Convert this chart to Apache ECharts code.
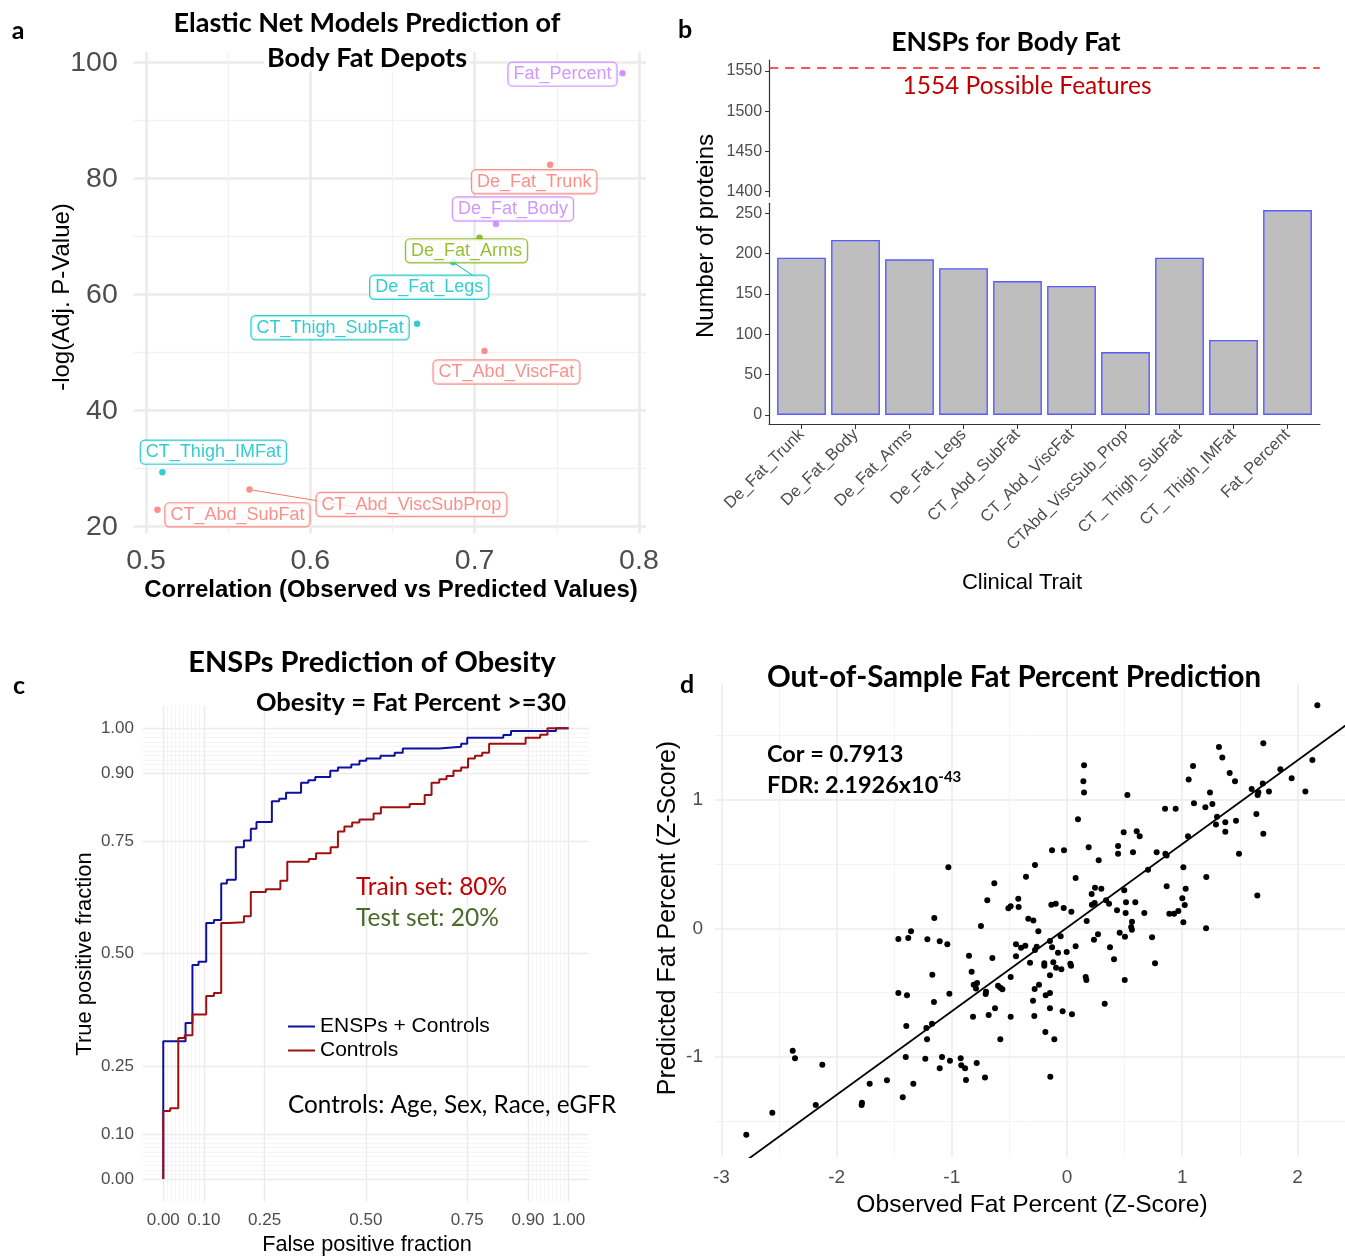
<!DOCTYPE html>
<html>
<head>
<meta charset="utf-8">
<title>ENSPs and body fat</title>
<script src="https://cdn.jsdelivr.net/npm/echarts/dist/echarts.min.js"></script>
<style>
    html, body { margin: 0; padding: 0; background: #fff; }
    #chart { width: 1345px; height: 1258px; }
</style>
</head>
<body>
<div id="chart"></div>
<script>
// ---- panel a: elastic net models per depot
const depotNames = ['Fat_Percent', 'De_Fat_Trunk', 'De_Fat_Body', 'De_Fat_Arms', 'De_Fat_Legs',
    'CT_Thigh_SubFat', 'CT_Abd_ViscFat', 'CT_Thigh_IMFat', 'CT_Abd_ViscSubProp', 'CT_Abd_SubFat']
const depotCor = [0.790, 0.746, 0.713, 0.703, 0.687, 0.665, 0.706, 0.510, 0.563, 0.507]
const depotLogP = [98.2, 82.4, 72.2, 69.8, 65.6, 55.0, 50.3, 29.4, 26.4, 22.9]
const depotGroup = [3, 0, 3, 1, 2, 2, 0, 2, 0, 0]

// ---- panel b: number of selected proteins
const traitNames = ['De_Fat_Trunk', 'De_Fat_Body', 'De_Fat_Arms', 'De_Fat_Legs', 'CT_Abd_SubFat',
    'CT_Abd_ViscFat', 'CTAbd_ViscSub_Prop', 'CT_ Thigh_SubFat', 'CT_ Thigh_IMFat', 'Fat_Percent']
const proteinCounts = [195, 217, 193, 182, 166, 160, 78, 195, 93, 254]
const possibleFeatures = 1554

// ---- panel c: ROC curves
const fprEnsp = [0, 0, 0.055, 0.072, 0.087, 0.106, 0.125, 0.143, 0.157, 0.179, 0.199, 0.216, 0.230, 0.268, 0.286,
    0.303, 0.340, 0.358, 0.375, 0.412, 0.431, 0.464, 0.484, 0.501, 0.536, 0.571, 0.591, 0.681, 0.735, 0.750,
    0.839, 0.858, 0.969, 1.0]
const tprEnsp = [0, 0.306, 0.346, 0.475, 0.482, 0.568, 0.575, 0.656, 0.664, 0.736, 0.751, 0.777, 0.792, 0.838, 0.844,
    0.857, 0.879, 0.885, 0.892, 0.906, 0.913, 0.920, 0.928, 0.933, 0.939, 0.946, 0.955, 0.959, 0.966, 0.979,
    0.985, 0.994, 1.0, 1.0]
const fprCtrl = [0, 0, 0.017, 0.037, 0.053, 0.072, 0.106, 0.125, 0.143, 0.161, 0.199, 0.216, 0.253, 0.289, 0.306,
    0.359, 0.377, 0.413, 0.431, 0.447, 0.466, 0.484, 0.519, 0.537, 0.608, 0.645, 0.662, 0.681, 0.699, 0.716,
    0.735, 0.752, 0.769, 0.787, 0.804, 0.894, 0.930, 0.948, 1.0]
const tprCtrl = [0, 0.151, 0.157, 0.313, 0.319, 0.365, 0.406, 0.413, 0.568, 0.570, 0.583, 0.637, 0.643, 0.662, 0.704,
    0.710, 0.723, 0.736, 0.771, 0.782, 0.791, 0.798, 0.811, 0.825, 0.832, 0.852, 0.879, 0.887, 0.894, 0.906,
    0.913, 0.933, 0.939, 0.946, 0.966, 0.979, 0.986, 1.0, 1.0]
const rocTicks = [0, 0.1, 0.25, 0.5, 0.75, 0.9, 1]
const rocMinor = [0.01, 0.02, 0.03, 0.04, 0.05, 0.06, 0.07, 0.08, 0.09, 0.91, 0.92, 0.93, 0.94, 0.95, 0.96, 0.97, 0.98, 0.99]

// ---- panel d: out-of-sample prediction (z-scores)
const obsZ = [
    -1.030, -0.356, -0.631, -0.692, -0.423, -0.509, -0.489, -0.420, -1.152, -0.336,
    2.173, 1.704, 1.319, 1.348, 2.130, 0.148, 1.094, 1.852, 1.412, 1.950,
    1.056, 1.458, 0.142, 1.699, 1.603, 0.148, 1.241, 1.661, 1.655, 1.753,
    2.069, 0.524, 1.102, 1.262, 1.201, 0.851, 0.943, 1.644, 1.302, 0.095,
    1.467, 1.374, 1.293, 1.374, 1.704, 0.492, 0.605, 0.631, 1.050, 0.443,
    0.188, -0.130, -0.026, 0.443, 0.573, 0.778, 0.854, 0.865, 1.493, 0.275,
    -0.278, 1.010, 0.703, 0.075, 1.209, 0.865, 0.243, 0.298, 0.497, 1.030,
    0.214, 1.652, 1.001, 0.339, 0.365, 0.512, 0.593, -0.136, -0.098, 0.216,
    0.240, 1.022, -0.029, 0.038, 0.434, 0.509, 0.671, 0.888, 0.929, 0.966,
    -0.292, 0.171, 0.564, 1.010, 1.207, -0.249, 0.557, 0.563, 0.457, 0.503,
    0.269, 0.234, 0.738, -0.055, -0.148, -0.263, -0.130, 0.075, 0.373, -0.078,
    -0.003, -0.278, -0.321, -0.197, -0.197, -0.119, -0.095, -0.049, 0.029, 0.035,
    0.408, 0.764, -0.148, 0.162, 0.168, 0.501, -0.243, -0.281, -0.185, -0.148,
    -0.295, 0.327, -0.148, -0.038, 0.043, -0.284, -0.188, -0.110, -0.145,
    -0.747, -1.354, -1.464, -1.378, -1.212, -1.105, -1.039, -0.443, -0.399, -0.362,
    -0.851, -0.648, -0.443, -0.828, -1.169, -0.489, -0.810, -0.781, -0.790, -0.703,
    -0.706, -0.599, -0.579, -0.561, -1.464, -1.389, -1.021, -1.155, -0.625, -0.816,
    -0.680, -0.489, -1.395, -1.221, -1.172, -1.215, -0.579, -1.400, -1.230, -1.085,
    -1.016, -0.923, -0.918, -0.885, -1.105, -0.784, -0.877, -0.712, -2.381, -2.361,
    -2.124, -1.713, -1.563, -1.334, -1.426, -1.780, -1.783, -2.181, -2.558, -2.784
]
const predZ = [
    0.474, 0.401, 0.350, 0.218, 0.230, 0.156, 0.171, 0.166, 0.080, 0.075,
    1.734, 1.438, 1.410, 1.327, 1.309, 1.267, 1.262, 1.236, 1.208, 1.166,
    1.156, 1.143, 1.143, 1.125, 1.083, 1.055, 1.055, 1.057, 1.037, 1.063,
    1.063, 1.037, 0.972, 0.967, 0.941, 0.930, 0.930, 0.889, 0.868, 0.847,
    0.837, 0.824, 0.806, 0.751, 0.736, 0.746, 0.754, 0.715, 0.715, 0.640,
    0.630, 0.607, 0.607, 0.580, 0.591, 0.591, 0.580, 0.565, 0.580, 0.529,
    0.492, 0.474, 0.456, 0.391, 0.399, 0.327, 0.316, 0.308, 0.295, 0.308,
    0.267, 0.254, 0.233, 0.218, 0.191, 0.202, 0.202, 0.184, 0.191, 0.184,
    0.197, 0.181, 0.158, 0.129, 0.140, 0.119, 0.119, 0.114, 0.114, 0.135,
    0.060, 0.057, 0.051, 0.047, 0.000, -0.023, 0.010, -0.011, -0.034, -0.065,
    -0.047, -0.089, -0.070, -0.062, -0.099, -0.143, -0.148, -0.140, -0.148, -0.190,
    -0.184, -0.169, -0.267, -0.272, -0.291, -0.264, -0.306, -0.319, -0.275, -0.291,
    -0.241, -0.272, -0.365, -0.379, -0.402, -0.402, -0.438, -0.472, -0.521, -0.503,
    -0.563, -0.586, -0.622, -0.645, -0.669, -0.682, -0.806, -0.863, -1.154,
    0.018, -0.023, -0.083, -0.075, -0.086, -0.101, -0.124, -0.124, -0.151, -0.135,
    -0.213, -0.231, -0.218, -0.337, -0.361, -0.379, -0.438, -0.425, -0.469, -0.493,
    -0.511, -0.446, -0.462, -0.474, -0.503, -0.521, -0.508, -0.573, -0.622, -0.687,
    -0.674, -0.687, -0.760, -0.775, -0.742, -0.863, -0.863, -1.001, -1.014, -1.001,
    -1.029, -1.011, -1.065, -1.089, -1.089, -1.047, -1.180, -1.159, -0.952, -1.011,
    -1.060, -1.208, -1.182, -1.208, -1.314, -1.356, -1.374, -1.374, -1.434, -1.605
]
const fitIntercept = 0.005
const fitSlope = 0.65
const fitRange = [-2.79, 2.6]

// ---- styles
const AXIS_FONT = 'Liberation Sans, Arial, sans-serif'
const TITLE_FONT = 'Lato, Open Sans, sans-serif'
const groupColors = ['#F8766D', '#7CAE00', '#00BFC4', '#C77CFF']
const labelNudge = [[-60, 1], [-16, 17], [17, -15], [-13, 13], [-24, 25], [-87, 4], [22, 21], [51, -20], [162, 15], [80, 5]]
const labelLink = [false, false, false, false, true, false, false, false, true, false]

function axis(gridIndex, min, max, values, o) {
    return {
        type: 'value',
        gridIndex,
        min,
        max,
        axisLine: {show: !!o.line, onZero: false, lineStyle: {color: '#333', width: 1.2}},
        axisTick: {show: !!o.tickLen, length: o.tickLen || 0, customValues: values, lineStyle: {color: '#333'}},
        axisLabel: o.label
            ? Object.assign({show: true, customValues: values, color: '#4d4d4d', fontFamily: AXIS_FONT, formatter: (v) => String(v)}, o.label)
            : {show: false},
        splitLine: o.split ? {show: true, lineStyle: {color: o.split[0], width: o.split[1]}} : {show: false},
    }
}

function txt(text, x, y, o) {
    return {
        type: 'text',
        x,
        y,
        z: 100,
        rotation: o.rot || 0,
        silent: true,
        style: {
            text,
            fontSize: o.size,
            fontFamily: o.font || AXIS_FONT,
            fontWeight: o.bold ? 'bold' : 'normal',
            fill: o.color || '#000',
            align: o.align || 'center',
            verticalAlign: 'middle',
            backgroundColor: o.bg,
            padding: o.bg ? [0, 3] : 0,
            rich: o.rich,
        },
    }
}

const grids = [
    {left: 133.8, top: 51.7, width: 512.2, height: 481.6},
    {left: 769.1, top: 60, width: 550.8, height: 136.7},
    {left: 769.1, top: 203.3, width: 550.8, height: 220.7},
    {left: 143, top: 705.8, width: 445.8, height: 495.8},
    {left: 715, top: 683, width: 686.1, height: 474},
].map((g) => Object.assign({containLabel: false, outerBoundsMode: 'none'}, g))

const xAxes = [
    axis(0, 0.4926, 0.8043, [0.5, 0.6, 0.7, 0.8], {label: {fontSize: 28.5, margin: 13}, split: ['#ebebeb', 2.6]}),
    axis(0, 0.4926, 0.8043, [0.55, 0.65, 0.75], {split: ['#f2f2f2', 1.3]}),
    axis(1, -0.6, 9.6, [], {}),
    axis(2, -0.6, 9.6, traitNames.map((t, i) => i), {
        line: true,
        tickLen: 5,
        label: {fontSize: 16.5, rotate: 45, margin: 8, formatter: (v) => traitNames[v]},
    }),
    axis(3, -0.05, 1.05, rocTicks, {label: {fontSize: 17, margin: 10, formatter: (v) => v.toFixed(2)}, split: ['#ebebeb', 1.4]}),
    axis(3, -0.05, 1.05, rocMinor, {split: ['#f2f2f2', 0.8]}),
    axis(4, -3.0556, 2.9, [-3, -2, -1, 0, 1, 2], {label: {fontSize: 19, margin: 11}, split: ['#ebebeb', 1.5]}),
    axis(4, -3.0556, 2.9, [-2.5, -1.5, -0.5, 0.5, 1.5, 2.5], {split: ['#f2f2f2', 0.9]}),
]

const yAxes = [
    axis(0, 18.86, 101.9, [20, 40, 60, 80, 100], {label: {fontSize: 28.5, margin: 16}, split: ['#ebebeb', 2.6]}),
    axis(0, 18.86, 101.9, [30, 50, 70, 90], {split: ['#f2f2f2', 1.3]}),
    axis(1, 1393.8, 1563.7, [1400, 1450, 1500, 1550], {line: true, tickLen: 4, label: {fontSize: 16, margin: 7}}),
    axis(2, -11.2, 262.4, [0, 50, 100, 150, 200, 250], {line: true, tickLen: 4, label: {fontSize: 16, margin: 7}}),
    axis(3, -0.05, 1.05, rocTicks, {label: {fontSize: 17, margin: 9, formatter: (v) => v.toFixed(2)}, split: ['#ebebeb', 1.4]}),
    axis(3, -0.05, 1.05, rocMinor, {split: ['#f2f2f2', 0.8]}),
    axis(4, -1.778, 1.907, [-1, 0, 1], {label: {fontSize: 19, margin: 12}, split: ['#ebebeb', 1.5]}),
    axis(4, -1.778, 1.907, [-1.5, -0.5, 0.5, 1.5], {split: ['#f2f2f2', 0.9]}),
]

const depotSeries = {
    type: 'scatter',
    xAxisIndex: 0,
    yAxisIndex: 0,
    symbolSize: 6.5,
    z: 5,
    labelLine: {lineStyle: {width: 1}},
    data: depotNames.map((n, i) => {
        const c = groupColors[depotGroup[i]]
        return {
            name: n,
            value: [depotCor[i], depotLogP[i]],
            itemStyle: {color: c},
            label: {
                show: true,
                position: 'inside',
                offset: labelNudge[i],
                formatter: '{b}',
                color: c,
                fontSize: 18,
                fontFamily: AXIS_FONT,
                backgroundColor: '#fff',
                borderColor: c,
                borderWidth: 1.2,
                borderRadius: 4,
                padding: [3, 5, 2, 5],
            },
            labelLine: {show: labelLink[i], lineStyle: {color: c}},
        }
    }),
}

const option = {
    animation: false,
    backgroundColor: '#fff',
    grid: grids,
    xAxis: xAxes,
    yAxis: yAxes,
    legend: {
        data: ['ENSPs + Controls', 'Controls'],
        orient: 'vertical',
        left: 283,
        top: 1011,
        itemWidth: 27,
        itemHeight: 2,
        itemGap: 3,
        icon: 'rect',
        selectedMode: false,
        textStyle: {fontSize: 21, fontFamily: AXIS_FONT, color: '#000'},
    },
    series: [
        depotSeries,
        {
            // the 1554 limit sits in the upper (broken) part of panel b
            type: 'line',
            xAxisIndex: 2,
            yAxisIndex: 2,
            data: [],
            markLine: {
                silent: true,
                symbol: 'none',
                label: {show: false},
                lineStyle: {color: '#ff1a1a', width: 1.6, type: [9, 7]},
                data: [{yAxis: possibleFeatures}],
            },
        },
        {
            type: 'bar',
            xAxisIndex: 3,
            yAxisIndex: 3,
            barWidth: 48.8,
            itemStyle: {color: '#bebebe', borderColor: '#5a5aff', borderWidth: 1.4},
            data: traitNames.map((t, i) => [i, proteinCounts[i]]),
        },
        {
            name: 'ENSPs + Controls',
            type: 'line',
            step: 'end',
            xAxisIndex: 4,
            yAxisIndex: 4,
            showSymbol: false,
            color: '#10109e',
            lineStyle: {width: 2, color: '#10109e'},
            data: fprEnsp.map((f, i) => [f, tprEnsp[i]]),
        },
        {
            name: 'Controls',
            type: 'line',
            step: 'end',
            xAxisIndex: 4,
            yAxisIndex: 4,
            showSymbol: false,
            color: '#a00f0f',
            lineStyle: {width: 2, color: '#a00f0f'},
            data: fprCtrl.map((f, i) => [f, tprCtrl[i]]),
        },
        {
            type: 'scatter',
            xAxisIndex: 6,
            yAxisIndex: 6,
            symbolSize: 6,
            itemStyle: {color: '#000', opacity: 1},
            data: obsZ.map((x, i) => [x, predZ[i]]),
        },
        {
            type: 'line',
            xAxisIndex: 6,
            yAxisIndex: 6,
            showSymbol: false,
            lineStyle: {color: '#000', width: 1.8},
            data: fitRange.map((x) => [x, fitIntercept + fitSlope * x]),
        },
    ],
    graphic: [
        // panel letters
        txt('a', 18, 31, {size: 25, bold: true, font: TITLE_FONT}),
        txt('b', 685, 30, {size: 25, bold: true, font: TITLE_FONT}),
        txt('c', 19, 686, {size: 25, bold: true, font: TITLE_FONT}),
        txt('d', 687, 685, {size: 25, bold: true, font: TITLE_FONT}),

        // panel a
        txt('Elastic Net Models Prediction of', 367, 23, {size: 27, bold: true, font: TITLE_FONT}),
        txt('Body Fat Depots', 367, 58, {size: 27, bold: true, font: TITLE_FONT, bg: '#fff'}),
        txt('Correlation (Observed vs Predicted Values)', 391, 590, {size: 24, bold: true}),
        txt('-log(Adj. P-Value)', 62, 297, {size: 24, rot: Math.PI / 2}),

        // panel b
        txt('ENSPs for Body Fat', 1006, 42, {size: 26.5, bold: true, font: TITLE_FONT}),
        txt('1554 Possible Features', 1027, 86, {size: 24.5, font: TITLE_FONT, color: '#c00000'}),
        txt('Number of proteins', 706, 236, {size: 24, rot: Math.PI / 2}),
        txt('Clinical Trait', 1022, 583, {size: 22}),

        // panel c
        txt('ENSPs Prediction of Obesity', 372, 663, {size: 29, bold: true, font: TITLE_FONT}),
        txt('Obesity = Fat Percent >=30', 411, 703, {size: 25.5, bold: true, font: TITLE_FONT}),
        txt('Train set: 80%', 356, 887, {size: 24.5, font: TITLE_FONT, color: '#c00000', align: 'left'}),
        txt('Test set: 20%', 356, 918, {size: 24.5, font: TITLE_FONT, color: '#4b6a2c', align: 'left'}),
        txt('Controls: Age, Sex, Race, eGFR', 288, 1105, {size: 24.3, font: TITLE_FONT, align: 'left'}),
        txt('True positive fraction', 85, 954, {size: 22, rot: Math.PI / 2}),
        txt('False positive fraction', 367, 1245, {size: 21.7}),

        // panel d
        txt('Out-of-Sample Fat Percent Prediction', 1014, 677, {size: 29.5, bold: true, font: TITLE_FONT}),
        txt('Cor = 0.7913', 767, 754, {size: 23.5, bold: true, font: TITLE_FONT, align: 'left'}),
        txt('{m|FDR: 2.1926x10}{s|-43}', 767, 785, {
            size: 23.5,
            font: TITLE_FONT,
            align: 'left',
            rich: {
                m: {fontSize: 23.5, fontWeight: 'bold', fontFamily: TITLE_FONT, lineHeight: 30},
                s: {fontSize: 15, fontWeight: 'bold', fontFamily: TITLE_FONT, verticalAlign: 'top', lineHeight: 30, padding: [0, 0, 10, 0]},
            },
        }),
        txt('Observed Fat Percent (Z-Score)', 1032, 1205, {size: 24.6}),
        txt('Predicted Fat Percent (Z-Score)', 668, 918, {size: 25, rot: Math.PI / 2}),
    ],
}

const chart = echarts.init(document.getElementById('chart'), null, {renderer: 'canvas'})
chart.setOption(option)
</script>
</body>
</html>
